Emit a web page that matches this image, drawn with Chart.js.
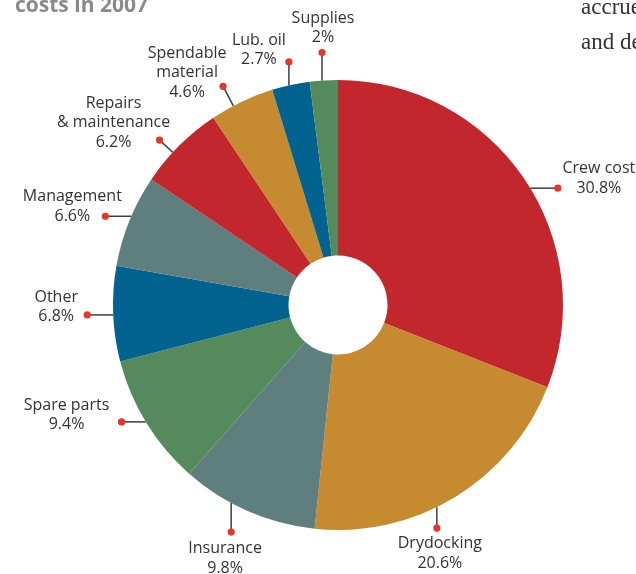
<!DOCTYPE html>
<html>
<head>
<meta charset="utf-8">
<script src="https://cdn.jsdelivr.net/npm/chart.js@4.4.1/dist/chart.umd.min.js"></script>
<style>
  html, body { margin: 0; padding: 0; background: #fff; }
  #page { position: relative; width: 636px; height: 574px; overflow: hidden; }
  #chart { position: absolute; left: 0; top: 0; }
  .heading { position: absolute; left: 15px; top: -10px; font: bold 21px "Open Sans", sans-serif; color: #8a8a8a; white-space: nowrap; }
  .body-text { position: absolute; left: 581px; font: 23px "Liberation Serif", serif; color: #333; white-space: nowrap; }
</style>
</head>
<body>
<div id="page">
  <canvas id="chart" width="636" height="574"></canvas>
  <div class="heading">costs in 2007</div>
  <div class="body-text" style="top:-6px">accrue</div>
  <div class="body-text" style="top:29px">and de</div>
</div>
<script>
// cost breakdown, clockwise from 12 o'clock
const categories = [
  ['Crew cost'], ['Drydocking'], ['Insurance'], ['Spare parts'], ['Other'],
  ['Management'], ['Repairs', '& maintenance'], ['Spendable', 'material'],
  ['Lub. oil'], ['Supplies']
];
const shares = [30.8, 20.6, 9.8, 9.4, 6.8, 6.6, 6.2, 4.6, 2.7, 2];

const RED = '#c1272d', GOLD = '#c68a30', SLATE = '#5f7f7e', GREEN = '#548a5c', BLUE = '#00628e';
const sliceColours = [RED, GOLD, SLATE, GREEN, BLUE, SLATE, RED, GOLD, BLUE, GREEN];

// callout placement: angle nudge (deg), gap beyond rim, leader direction, text offset from dot
const callouts = [
  { nudge: 6.3,  gap: 24, dir: 'h', tx: 41,  ty: 0 },
  { nudge: 7.4,  gap: 19, dir: 'v', tx: 3,   ty: 35 },
  { nudge: 1.5,  gap: 26, dir: 'v', tx: -6,  ty: 36 },
  { nudge: 3.2,  gap: 21, dir: 'h', tx: -55, ty: 3 },
  { nudge: 0,    gap: 26, dir: 'h', tx: -31, ty: 2 },
  { nudge: -1.1, gap: 24, dir: 'h', tx: -33, ty: 0 },
  { nudge: -2.4, gap: 18, dir: 'r', tx: -46, ty: 2 },
  { nudge: -2.4, gap: 22, dir: 'r', tx: -36, ty: 6 },
  { nudge: 0.7,  gap: 23, dir: 'v', tx: -30, ty: -2 },
  { nudge: 0,    gap: 28, dir: 'v', tx: 1,   ty: -15 }
];

const calloutPlugin = {
  id: 'callouts',
  afterDatasetsDraw(chart) {
    const ctx = chart.ctx;
    const arcs = chart.getDatasetMeta(0).data;
    ctx.save();
    arcs.forEach((arc, i) => {
      const c = callouts[i];
      const R = arc.outerRadius;
      const a = (arc.startAngle + arc.endAngle) / 2 + c.nudge * Math.PI / 180;
      const dx = Math.cos(a) * (R + c.gap), dy = Math.sin(a) * (R + c.gap);
      const px = arc.x + dx, py = arc.y + dy;
      let ex, ey;
      if (c.dir === 'h') {
        ey = py;
        ex = arc.x + Math.sign(dx) * Math.sqrt(Math.max(R * R - dy * dy, 0));
      } else if (c.dir === 'v') {
        ex = px;
        ey = arc.y + Math.sign(dy) * Math.sqrt(Math.max(R * R - dx * dx, 0));
      } else {
        ex = arc.x + Math.cos(a) * R;
        ey = arc.y + Math.sin(a) * R;
      }
      ctx.strokeStyle = '#3d3d3d';
      ctx.lineWidth = 1.5;
      ctx.beginPath();
      ctx.moveTo(px, py);
      ctx.lineTo(ex, ey);
      ctx.stroke();
      ctx.fillStyle = '#e8352c';
      ctx.beginPath();
      ctx.arc(px, py, 3.6, 0, Math.PI * 2);
      ctx.fill();

      const lines = categories[i].concat(shares[i] + '%');
      ctx.fillStyle = '#333';
      ctx.font = '16px "Open Sans", sans-serif';
      ctx.textAlign = 'center';
      ctx.textBaseline = 'middle';
      lines.forEach((t, k) => {
        ctx.fillText(t, px + c.tx, py + c.ty - (lines.length - 1 - k) * 19.5);
      });
    });
    ctx.restore();
  }
};

new Chart(document.getElementById('chart'), {
  type: 'doughnut',
  data: {
    labels: categories,
    datasets: [{
      data: shares,
      backgroundColor: sliceColours,
      borderWidth: 0,
      hoverOffset: 0
    }]
  },
  options: {
    responsive: false,
    animation: false,
    cutout: '22%',
    layout: { padding: { left: 113, right: 73, top: 80, bottom: 44 } },
    plugins: { legend: { display: false }, tooltip: { enabled: false } }
  },
  plugins: [calloutPlugin]
});
</script>
</body>
</html>
